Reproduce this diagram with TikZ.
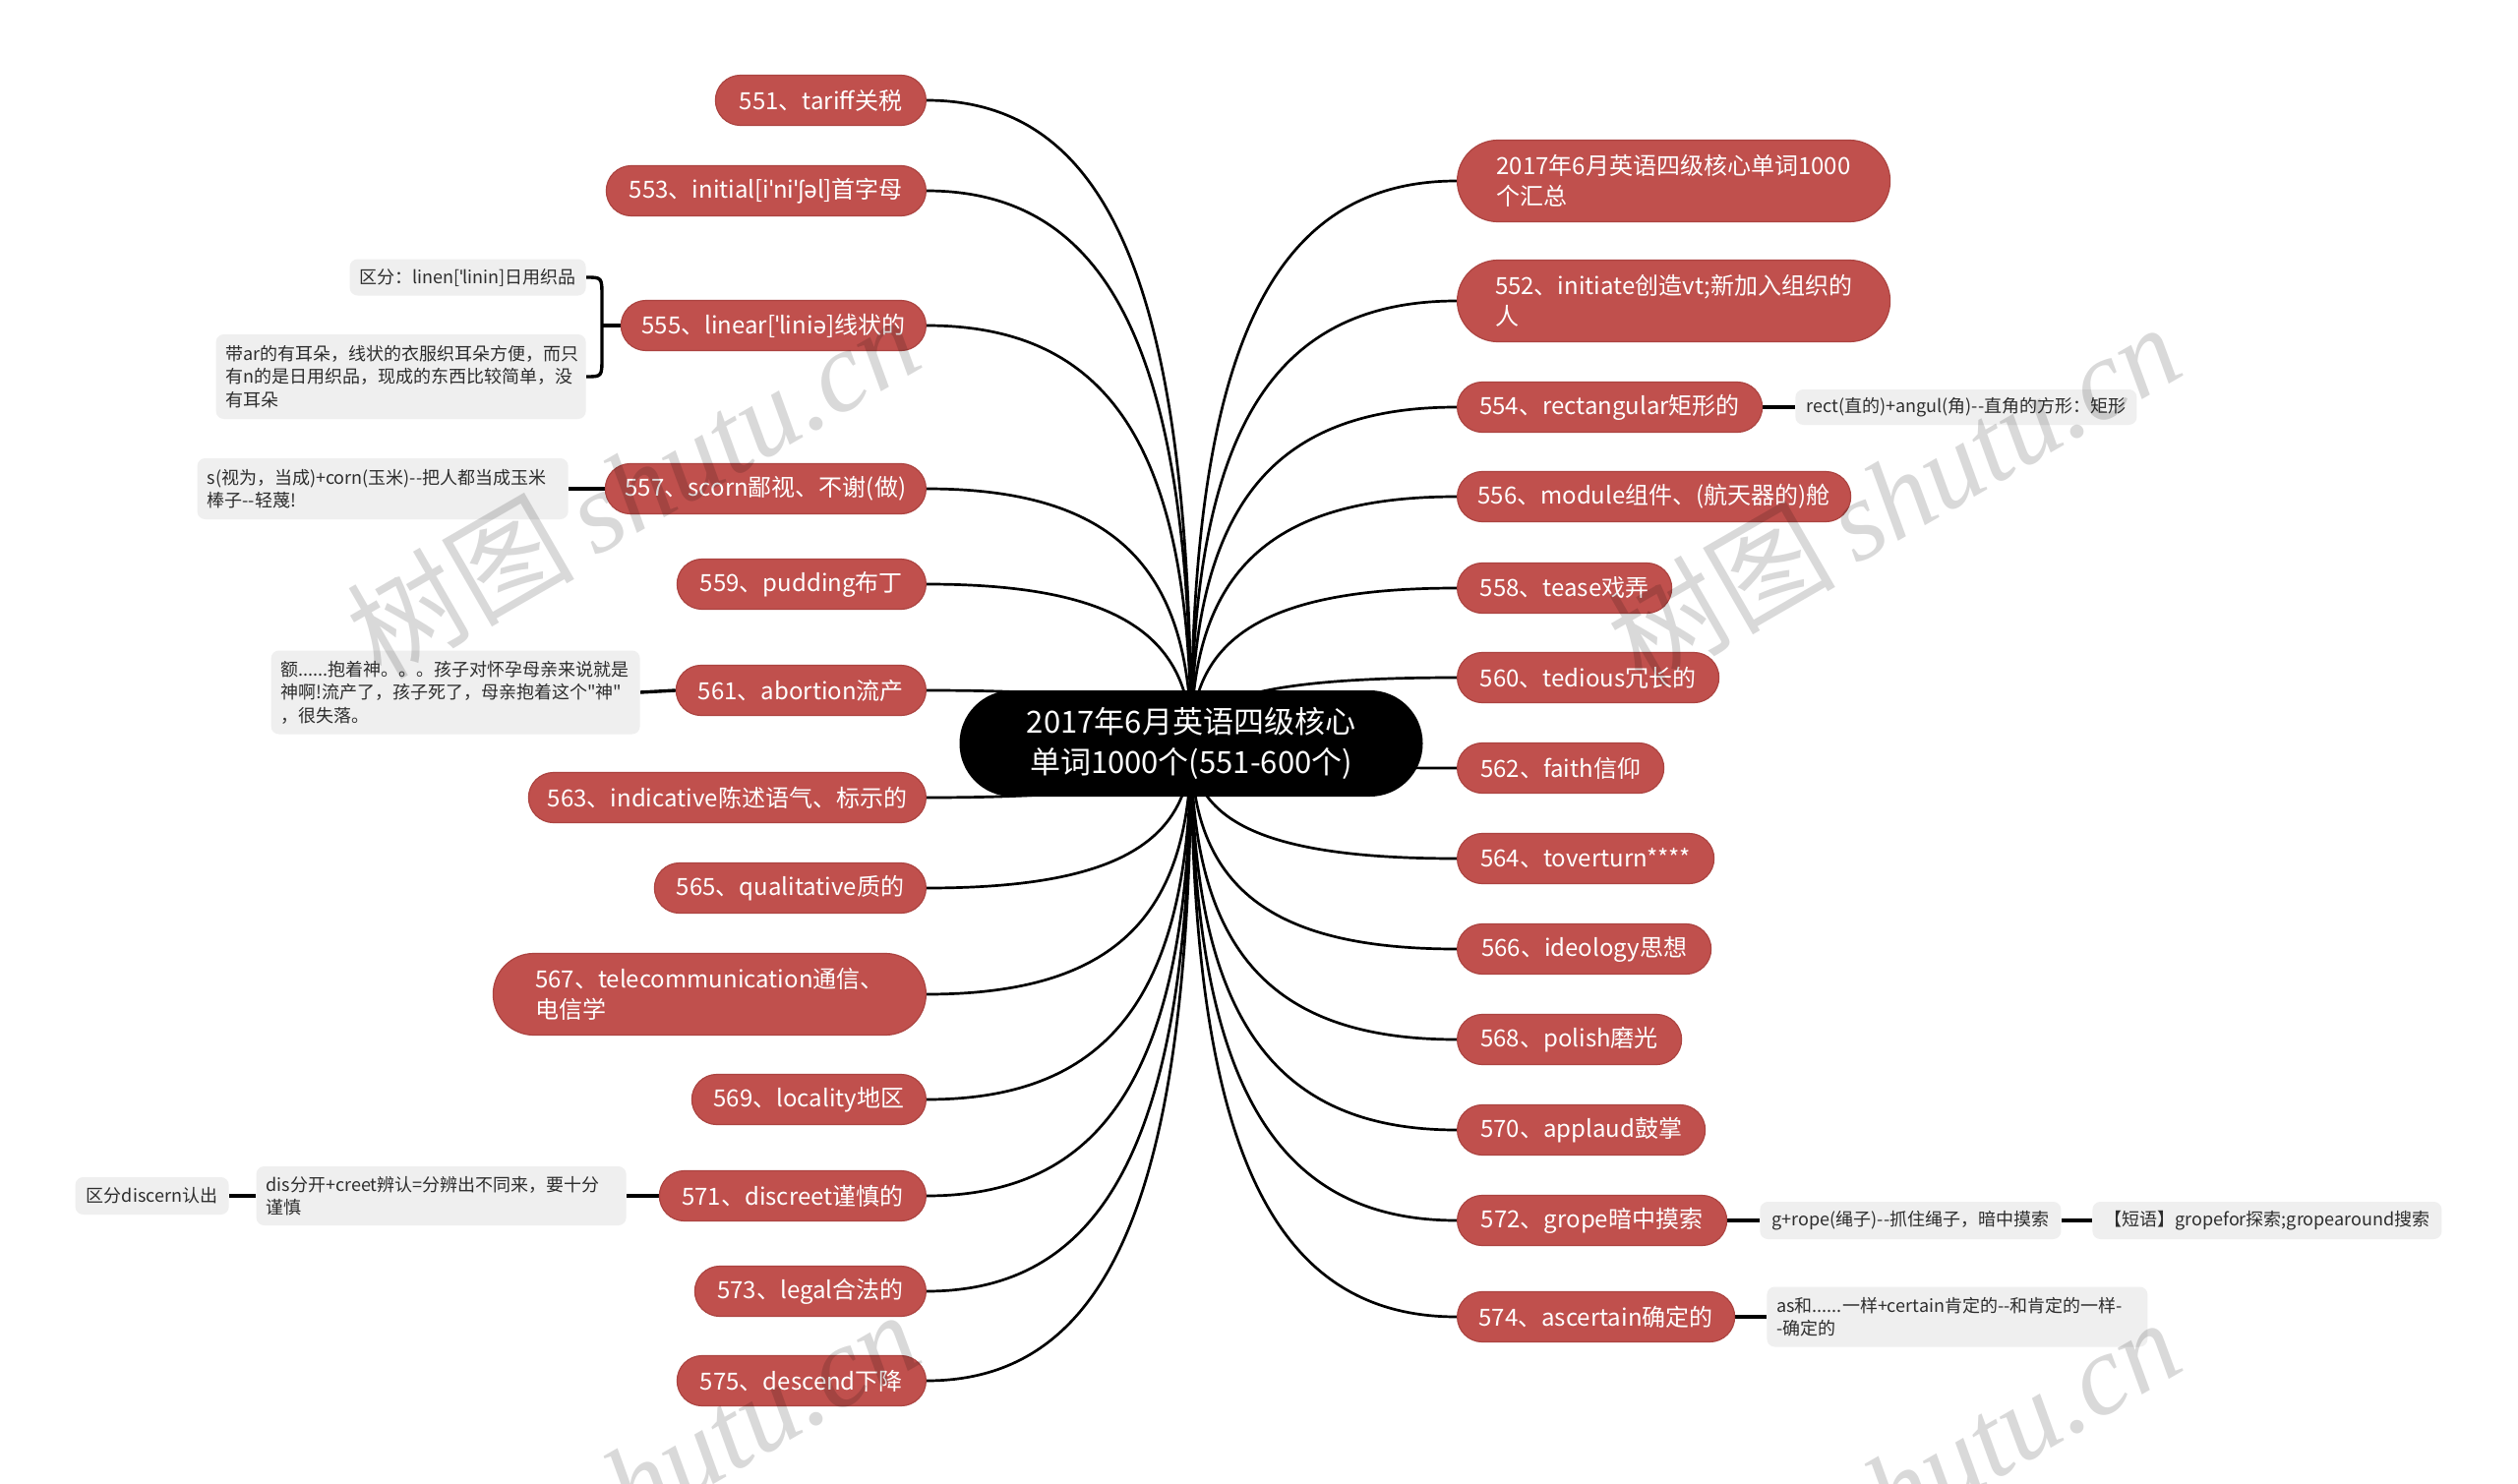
\documentclass[tikz,border=0pt]{standalone}
\usepackage{fontspec}
\setmainfont{Noto Sans CJK SC}[Ligatures=TeXOff]
\newfontfamily\ipafont{Noto Sans}
\newfontfamily\wmserif{Liberation Serif}
\usetikzlibrary{calc}
\definecolor{nodered}{RGB}{192,80,77}
\definecolor{nodeedge}{RGB}{172,68,65}
\definecolor{notegray}{RGB}{239,239,239}
\definecolor{notetext}{RGB}{45,45,45}
\pgfdeclarelayer{bg}
\pgfdeclarelayer{paper}
\pgfsetlayers{paper,bg,main}
\newcommand\ip[1]{{\ipafont #1}}
\newcommand\curvefrom[2]{\draw[conn] (#1.#2) .. controls ($(#1.#2)!0.7!(#1.#2 -| O)$) and ($(O)!0.7!(O |- #1.#2)$) .. (O);}
\begin{document}
\begin{tikzpicture}[x=0.5pt,y=-0.5pt,
 pill/.style={fill=nodered, draw=nodeedge, line width=0.6pt, text=white, font=\fontsize{12}{15}\selectfont, rounded corners=12.7pt, minimum height=25.5pt, inner sep=0pt},
 pilltwo/.style={pill, rounded corners=20.7pt, minimum height=41.5pt, align=left, font=\fontsize{12}{15.5}\selectfont},
 note/.style={fill=notegray, draw=none, rounded corners=4pt, text=notetext, font=\fontsize{9}{11.8}\selectfont, inner xsep=5pt, inner ysep=3pt, align=left},
 conn/.style={line width=1.35pt, black},
 nconn/.style={line width=1.7pt, black},
 centernode/.style={fill=black, text=white, rounded corners=26.9pt, minimum width=235.5pt, minimum height=54pt, inner sep=0pt, align=center, font=\fontsize{15.5}{20.5}\selectfont}
]
\useasboundingbox (0,0) rectangle (2560,1509);
\begin{pgfonlayer}{paper}
\fill[white] (0,0) rectangle (2560,1509);
\end{pgfonlayer}
\coordinate (O) at (1211,756);
\node[centernode] (c) at (1211,756) {2017年6月英语四级核心\\单词1000个(551-600个)};

% left pills
\node[pill, minimum width=107pt, anchor=east] (p551) at (942,102) {551、tariff关税};
\node[pill, minimum width=162.5pt, anchor=east] (p553) at (942,194) {553、initial[i\ip{ˈ}ni\ip{ˈʃə}l]首字母};
\node[pill, minimum width=155pt, anchor=east] (p555) at (942,331) {555、linear[\ip{ˈ}lini\ip{ə}]线状的};
\node[pill, minimum width=163pt, anchor=east] (p557) at (942,497) {557、scorn鄙视、不谢(做)};
\node[pill, minimum width=126.5pt, anchor=east] (p559) at (942,594) {559、pudding布丁};
\node[pill, minimum width=127pt, anchor=east] (p561) at (942,702) {561、abortion流产};
\node[pill, minimum width=202pt, anchor=east] (p563) at (942,811) {563、indicative陈述语气、标示的};
\node[pill, minimum width=138pt, anchor=east] (p565) at (942,903) {565、qualitative质的};
\node[pilltwo, minimum width=220pt, anchor=east] (p567) at (942,1011) {567、telecommunication通信、\\电信学};
\node[pill, minimum width=119pt, anchor=east] (p569) at (942,1118) {569、locality地区};
\node[pill, minimum width=135.5pt, anchor=east] (p571) at (942,1216) {571、discreet谨慎的};
\node[pill, minimum width=117.5pt, anchor=east] (p573) at (942,1313) {573、legal合法的};
\node[pill, minimum width=126.5pt, anchor=east] (p575) at (942,1404) {575、descend下降};

% right pills
\node[pilltwo, minimum width=220pt, anchor=west] (p000) at (1481,184) {2017年6月英语四级核心单词1000\\个汇总};
\node[pilltwo, minimum width=220pt, anchor=west] (p552) at (1481,306) {552、initiate创造vt;新加入组织的\\人};
\node[pill, minimum width=155pt, anchor=west] (p554) at (1481,414) {554、rectangular矩形的};
\node[pill, minimum width=200pt, anchor=west] (p556) at (1481,505) {556、module组件、(航天器的)舱};
\node[pill, minimum width=109pt, anchor=west] (p558) at (1481,598) {558、tease戏弄};
\node[pill, minimum width=133pt, anchor=west] (p560) at (1481,689) {560、tedious冗长的};
\node[pill, minimum width=105pt, anchor=west] (p562) at (1481,781) {562、faith信仰};
\node[pill, minimum width=130.5pt, anchor=west] (p564) at (1481,873) {564、toverturn****};
\node[pill, minimum width=129pt, anchor=west] (p566) at (1481,965) {566、ideology思想};
\node[pill, minimum width=114pt, anchor=west] (p568) at (1481,1057) {568、polish磨光};
\node[pill, minimum width=126pt, anchor=west] (p570) at (1481,1149) {570、applaud鼓掌};
\node[pill, minimum width=137pt, anchor=west] (p572) at (1481,1241) {572、grope暗中摸索};
\node[pill, minimum width=141pt, anchor=west] (p574) at (1481,1339) {574、ascertain确定的};

% notes
\node[note, minimum width=119pt, minimum height=18.5pt, anchor=east] (n555a) at (596,282) {区分：linen[\ip{ˈ}linin]日用织品};
\node[note, text width=178pt, minimum height=43pt, anchor=east] (n555b) at (596,383) {带ar的有耳朵，线状的衣服织耳朵方便，而只\\有n的是日用织品，现成的东西比较简单，没\\有耳朵};
\node[note, text width=178.5pt, minimum height=31pt, anchor=east] (n557) at (578,497) {s(视为，当成)+corn(玉米)--把人都当成玉米\\棒子--轻蔑!};
\node[note, text width=177.5pt, minimum height=42.5pt, anchor=east] (n561) at (651,704) {额......抱着神。。。孩子对怀孕母亲来说就是\\神啊!流产了，孩子死了，母亲抱着这个"神"\\，很失落。};
\node[note, text width=178pt, minimum height=30pt, anchor=east] (n571a) at (637,1216) {dis分开+creet辨认=分辨出不同来，要十分\\谨慎};
\node[note, minimum width=78pt, minimum height=19pt, anchor=east] (n571b) at (233,1216) {区分discern认出};
\node[note, minimum width=173.5pt, minimum height=18pt, anchor=west] (n554) at (1825,414) {rect(直的)+angul(角)--直角的方形：矩形};
\node[note, minimum width=153pt, minimum height=19pt, anchor=west] (n572a) at (1789,1241) {g+rope(绳子)--抓住绳子，暗中摸索};
\node[note, minimum width=177.5pt, minimum height=19pt, anchor=west] (n572b) at (2127,1241) {【短语】gropefor探索;gropearound搜索};
\node[note, text width=183.5pt, minimum height=30.5pt, anchor=west] (n574) at (1796,1339) {as和......一样+certain肯定的--和肯定的一样-\\-确定的};

\coordinate (br) at (612,331);

\begin{pgfonlayer}{bg}
\foreach \n in {p551,p553,p555,p557,p559,p561,p563,p565,p567,p569,p571,p573,p575} {\curvefrom{\n}{east}}
\foreach \n in {p000,p552,p554,p556,p558,p560,p562,p564,p566,p568,p570,p572,p574} {\curvefrom{\n}{west}}
\draw[nconn] (p554.east) -- (n554.west);
\draw[nconn] (p557.west) -- (n557.east);
\draw[nconn] (p561.west) -- (n561.east);
\draw[nconn] (p571.west) -- (n571a.east);
\draw[nconn] (n571a.west) -- (n571b.east);
\draw[nconn] (p572.east) -- (n572a.west);
\draw[nconn] (n572a.east) -- (n572b.west);
\draw[nconn] (p574.east) -- (n574.west);
\draw[nconn] (p555.west) -- (br);
\draw[nconn] (n555a.east) .. controls (n555a.east -| br) .. ($(n555a.east -| br)+(0,20)$) -- ($(n555b.east -| br)+(0,-20)$) .. controls (n555b.east -| br) .. (n555b.east);
\end{pgfonlayer}

% watermark
\begin{scope}
\clip (0,0) rectangle (2560,1509);
\foreach \x/\y in {643/494,1925/502,643/1506,1925/1514}
  \node[rotate=30, text=black, opacity=0.15, font=\fontsize{58}{60}\selectfont] at (\x,\y) {树图\,{\wmserif\itshape shutu.cn}};
\end{scope}
\end{tikzpicture}
\end{document}
